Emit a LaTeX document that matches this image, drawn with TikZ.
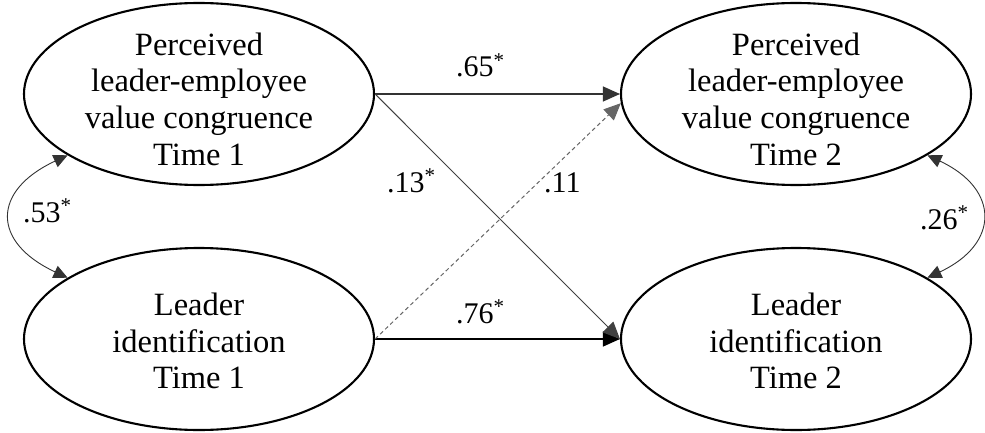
\documentclass[tikz,border=0pt]{standalone}
\usepackage{fontspec}
\setmainfont{Liberation Serif}
\usetikzlibrary{shapes.geometric,arrows.meta}
\begin{document}
\begin{tikzpicture}[x=1pt,y=1pt,
  latent/.style={ellipse,draw=black,line width=2.1pt,minimum width=350pt,minimum height=182pt,inner sep=0pt},
  lbl/.style={align=center,inner sep=0pt,font=\fontsize{32.5}{36.7}\selectfont},
  coef/.style={anchor=base west,inner sep=0pt,font=\fontsize{30}{32}\selectfont},
  path/.style={line width=1.3pt,-{Triangle[length=17pt,width=15pt]}},
  cov/.style={line width=0.9pt,black!80,{Triangle[length=14pt,width=13pt]}-{Triangle[length=14pt,width=13pt]}}
]
\useasboundingbox (0,0) rectangle (985,432);
\node[latent] (A) at (199,338) {};
\node[latent] (B) at (199,93) {};
\node[latent] (C) at (796,338) {};
\node[latent] (D) at (796,93) {};
\node[lbl] (At) at (199,333) {Perceived\\leader-employee\\value congruence\\Time 1};
\node[lbl] (Bt) at (199,91) {Leader\\identification\\Time 1};
\node[lbl] (Ct) at (796,333) {Perceived\\leader-employee\\value congruence\\Time 2};
\node[lbl] (Dt) at (796,91) {Leader\\identification\\Time 2};
% paths
\draw[path,black!80] (A.east) -- (C.west);
\draw[path,black] (B.east) -- (D.west);
\draw[path,line width=1pt,black!75] (A.east) -- (D.west);
\draw[path,line width=1pt,black!60,dash pattern=on 4pt off 3pt] (B.east) -- (C.183);
% covariances
\draw[cov] (A.205) .. controls +(205:84) and +(155:84) .. (B.155);
\draw[cov] (C.335) .. controls +(335:80) and +(25:80) .. (D.25);
% coefficients
\node[coef] (c65) at (456,355) {.65\textsuperscript{*}};
\node[coef] (c76) at (456,109) {.76\textsuperscript{*}};
\node[coef] (c13) at (387,240) {.13\textsuperscript{*}};
\node[coef] (c11) at (544,240) {.11};
\node[coef] (c53) at (23,210) {.53\textsuperscript{*}};
\node[coef] (c26) at (920,203) {.26\textsuperscript{*}};
\end{tikzpicture}
\end{document}
